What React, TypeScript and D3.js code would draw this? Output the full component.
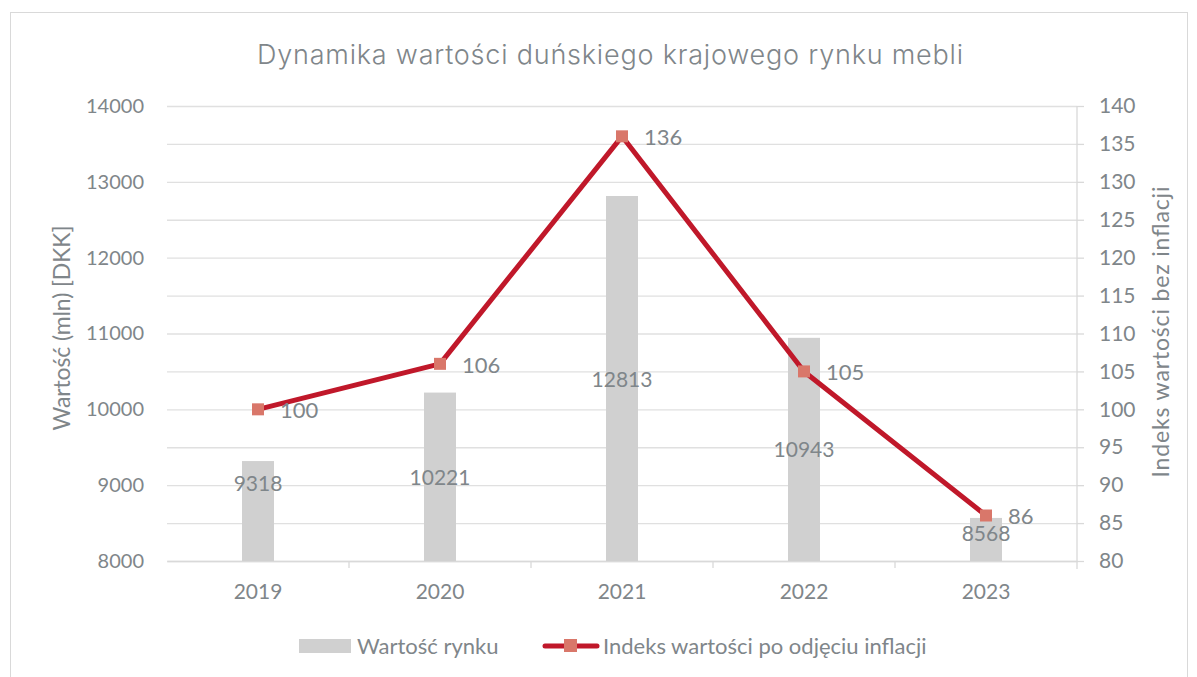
import React, { useEffect, useRef } from "react";
import * as d3 from "d3";

const years = ["2019", "2020", "2021", "2022", "2023"];
const marketValue = [9318, 10221, 12813, 10943, 8568];
const realIndex = [100, 106, 136, 105, 86];
const leftTicks = [8000, 9000, 10000, 11000, 12000, 13000, 14000];
const rightTicks = [80, 85, 90, 95, 100, 105, 110, 115, 120, 125, 130, 135, 140];
// how far below the bar top each bar label sits (px)
const barLabelDy = [23, 85, 184, 112, 16];

const W = 1197;
const H = 677;
const GRAY = "#7f868a";
const LINE = "#c0182a";
const MARK = "#d9776a";
const FONT = "Lato, 'Open Sans', sans-serif";

const App = () => {
  const svgRef = useRef<SVGSVGElement>(null);

  useEffect(() => {
    const svg = d3.select(svgRef.current);
    svg.selectAll("*").remove();

    const margin = { top: 106, right: 120, bottom: 116, left: 167 };
    const innerWidth = W - margin.left - margin.right;
    const innerHeight = H - margin.top - margin.bottom;

    svg.append("rect")
      .attr("x", 10.5).attr("y", 12.5)
      .attr("width", 1177).attr("height", 700)
      .attr("fill", "#fff").attr("stroke", "#d9d9d9");

    svg.append("text")
      .attr("x", 610).attr("y", 64)
      .attr("text-anchor", "middle")
      .attr("font-family", "Inter, sans-serif")
      .attr("font-weight", 300)
      .attr("font-size", 27)
      .attr("fill", GRAY)
      .attr("textLength", 706)
      .attr("lengthAdjust", "spacing")
      .text("Dynamika wartości duńskiego krajowego rynku mebli");

    const g = svg.append("g").attr("transform", `translate(${margin.left},${margin.top})`);

    const x = d3.scaleBand().domain(years).range([0, innerWidth]);
    const yL = d3.scaleLinear().domain([8000, 14000]).range([innerHeight, 0]);
    const yR = d3.scaleLinear().domain([80, 140]).range([innerHeight, 0]);

    // grid follows the right axis
    g.append("g")
      .call(d3.axisLeft(yR).tickValues(rightTicks).tickSize(-innerWidth).tickFormat(() => ""))
      .call(s => s.select(".domain").remove())
      .selectAll("line").attr("stroke", "#e0e0e0").attr("stroke-width", 1.3);

    // left axis labels
    g.append("g")
      .call(d3.axisLeft(yL).tickValues(leftTicks).tickSize(0).tickPadding(23).tickFormat(d3.format("d")))
      .call(s => s.select(".domain").remove())
      .selectAll("text")
      .attr("font-family", FONT).attr("font-size", 20).attr("fill", GRAY);

    // right axis
    const ra = g.append("g")
      .attr("transform", `translate(${innerWidth},0)`)
      .call(d3.axisRight(yR).tickValues(rightTicks).tickSize(7).tickPadding(15).tickFormat(d3.format("d")));
    ra.select(".domain").attr("stroke", "#d9d9d9").attr("stroke-width", 1.3).attr("d", `M0,0V${innerHeight + 8}`);
    ra.selectAll("line").attr("stroke", "#d9d9d9").attr("stroke-width", 1.3);
    ra.selectAll("text").attr("font-family", FONT).attr("font-size", 21).attr("fill", GRAY);

    // bottom axis
    const xa = g.append("g")
      .attr("transform", `translate(0,${innerHeight})`)
      .call(d3.axisBottom(x).tickSize(0).tickPadding(23));
    xa.select(".domain").attr("stroke", "#d9d9d9").attr("stroke-width", 1.3);
    xa.selectAll("text").attr("font-family", FONT).attr("font-size", 21).attr("fill", GRAY);
    g.append("g").selectAll("line")
      .data(years.slice(1))
      .join("line")
      .attr("x1", d => x(d)!).attr("x2", d => x(d)!)
      .attr("y1", innerHeight).attr("y2", innerHeight + 7)
      .attr("stroke", "#d9d9d9").attr("stroke-width", 1.3);

    // bars
    const bw = 32;
    g.selectAll(".bar")
      .data(marketValue)
      .join("rect")
      .attr("class", "bar")
      .attr("x", (d, i) => x(years[i])! + x.bandwidth() / 2 - bw / 2)
      .attr("y", d => yL(d))
      .attr("width", bw)
      .attr("height", d => innerHeight - yL(d))
      .attr("fill", "#d0d0d0");

    g.selectAll(".barLabel")
      .data(marketValue)
      .join("text")
      .attr("x", (d, i) => x(years[i])! + x.bandwidth() / 2)
      .attr("y", (d, i) => yL(d) + barLabelDy[i])
      .attr("dy", "0.35em")
      .attr("text-anchor", "middle")
      .attr("font-family", FONT).attr("font-size", 21).attr("fill", GRAY)
      .text(d => d);

    // line
    const line = d3.line<number>()
      .x((d, i) => x(years[i])! + x.bandwidth() / 2)
      .y(d => yR(d));
    g.append("path")
      .datum(realIndex)
      .attr("d", line)
      .attr("fill", "none")
      .attr("stroke", LINE)
      .attr("stroke-width", 5)
      .attr("stroke-linejoin", "round");

    g.selectAll(".mark")
      .data(realIndex)
      .join("rect")
      .attr("x", (d, i) => x(years[i])! + x.bandwidth() / 2 - 6)
      .attr("y", d => yR(d) - 6)
      .attr("width", 12).attr("height", 12)
      .attr("fill", MARK);

    g.selectAll(".lineLabel")
      .data(realIndex)
      .join("text")
      .attr("x", (d, i) => x(years[i])! + x.bandwidth() / 2 + 22)
      .attr("y", d => yR(d) + 1)
      .attr("dy", "0.35em")
      .attr("font-family", FONT).attr("font-size", 22).attr("fill", GRAY)
      .text(d => d);

    // axis titles
    svg.append("text")
      .attr("transform", `translate(70,328) rotate(-90)`)
      .attr("text-anchor", "middle")
      .attr("font-family", FONT).attr("font-size", 23).attr("fill", GRAY)
      .attr("textLength", 205).attr("lengthAdjust", "spacing")
      .text("Wartość (mln) [DKK]");
    svg.append("text")
      .attr("transform", `translate(1169,332) rotate(-90)`)
      .attr("text-anchor", "middle")
      .attr("font-family", FONT).attr("font-size", 23).attr("fill", GRAY)
      .attr("textLength", 291).attr("lengthAdjust", "spacing")
      .text("Indeks wartości bez inflacji");

    // legend
    const lg = svg.append("g").attr("font-family", FONT).attr("font-size", 22).attr("fill", GRAY);
    lg.append("rect").attr("x", 299).attr("y", 639).attr("width", 52).attr("height", 14).attr("fill", "#d0d0d0");
    lg.append("text").attr("x", 357).attr("y", 646).attr("dy", "0.35em")
      .text("Wartość rynku");
    lg.append("line").attr("x1", 545).attr("x2", 597).attr("y1", 646).attr("y2", 646)
      .attr("stroke", LINE).attr("stroke-width", 5).attr("stroke-linecap", "round");
    lg.append("rect").attr("x", 564).attr("y", 639).attr("width", 13).attr("height", 13).attr("fill", MARK);
    lg.append("text").attr("x", 603).attr("y", 646).attr("dy", "0.35em")
      .text("Indeks wartości po odjęciu inflacji");
  }, []);

  return (
    <svg
      ref={svgRef}
      width={W}
      height={H}
      style={{ position: "absolute", left: 0, top: 0, display: "block" }}
    ></svg>
  );
};

export default App;
